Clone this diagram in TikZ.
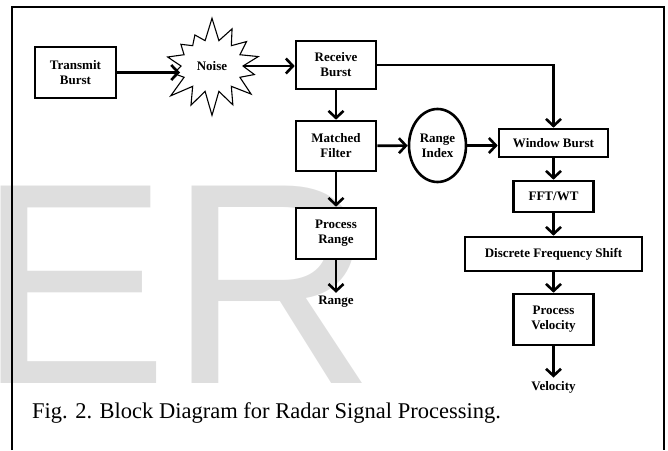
\documentclass[tikz,border=0pt]{standalone}
\usepackage{fontspec}
\setmainfont{Liberation Serif}
\newfontfamily\markfont{Liberation Sans}
\usepackage{tikz}
\usetikzlibrary{arrows.meta,shapes.geometric,shapes.symbols}

\begin{document}
\begin{tikzpicture}[x=1pt,y=-1pt,
    block/.style = {rectangle,
      draw = black,
      line width = 2.6pt,
      fill = white,
      align = center,
      font = \fontsize{13}{15}\selectfont\bfseries},
    flow/.style = {line width = 2.6pt,
      -{Straight Barb[length=7pt,width=15pt]}},
    label/.style = {font = \fontsize{13}{15}\selectfont\bfseries}]
\useasboundingbox (0,0) rectangle (668,450);

% watermark
\node[anchor = base west,
    inner sep = 0pt,
    text = black!13,
    font = \fontsize{287}{287}\markfont\selectfont] (wm) at (-23,383) {ER};

% frame
\draw[line width = 1.6pt] (12,450) -- (12,7) -- (664,7) -- (664,450);

% transmit side
\node[block,
    minimum width = 81pt,
    minimum height = 51pt] (tx) at (75.5,72.5) {Transmit\\Burst};

\node[starburst,
    draw = black,
    line width = 1.1pt,
    fill = white,
    starburst points = 14,
    starburst point height = 24pt,
    random starburst = 7,
    minimum width = 110pt,
    minimum height = 100pt,
    font = \fontsize{13}{15}\selectfont\bfseries] (noise) at (212,66) {Noise};

% range column
\node[block,
    minimum width = 80pt,
    minimum height = 48pt] (rx) at (336,65) {Receive\\Burst};

\node[block,
    minimum width = 80pt,
    minimum height = 50pt] (mf) at (336,146) {Matched\\Filter};

\node[block,
    minimum width = 80pt,
    minimum height = 51pt] (pr) at (336,233.5) {Process\\Range};

\node[label] (rng) at (336,302) {Range};

\node[ellipse,
    draw = black,
    line width = 2.6pt,
    fill = white,
    align = center,
    inner sep = 0pt,
    minimum width = 57pt,
    minimum height = 73pt,
    font = \fontsize{13}{15}\selectfont\bfseries] (ri) at (437.5,145.5) {Range\\Index};

% velocity column
\node[block,
    minimum width = 109pt,
    minimum height = 28pt] (wb) at (553.5,143) {Window Burst};

\node[block,
    minimum width = 80pt,
    minimum height = 31pt] (fft) at (553.5,196.5) {FFT/WT};

\node[block,
    minimum width = 177pt,
    minimum height = 34pt] (dfs) at (553.5,254) {Discrete Frequency Shift};

\node[block,
    minimum width = 80pt,
    minimum height = 51pt] (pv) at (553.5,319.5) {Process\\Velocity};

\node[label] (vel) at (553.5,387) {Velocity};

% connectors
\draw[flow] (tx.east) -- (noise.west |- tx.east);
\draw[flow] (noise.east) -- (rx.west |- noise.east);
\draw[flow] (rx.east) -| (wb.north);
\draw[flow] (rx) -- (mf);
\draw[flow] (mf) -- (pr);
\draw[flow] (pr) -- (rng);
\draw[flow] (mf) -- (ri);
\draw[flow] (ri.east) -- (ri.east -| wb.west);
\draw[flow] (wb) -- (fft);
\draw[flow] (fft) -- (dfs);
\draw[flow] (dfs) -- (pv);
\draw[flow] (pv) -- (vel);

% caption
\node[anchor = west,
    inner sep = 0pt,
    font = \fontsize{22.5}{25}\selectfont] (cap) at (32,413) {Fig. 2. Block Diagram for Radar Signal Processing.};

\end{tikzpicture}
\end{document}
